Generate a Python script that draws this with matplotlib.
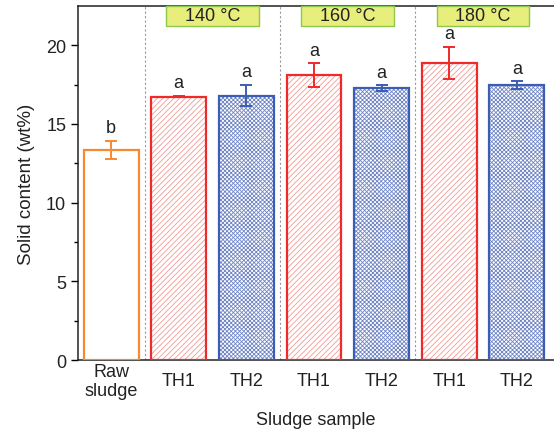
import matplotlib.pyplot as plt
from matplotlib.patches import Rectangle
import numpy as np

plt.rcParams['font.family'] = ['Liberation Sans', 'DejaVu Sans']
plt.rcParams['hatch.linewidth'] = 0.6

# data
samples = ['Raw\nsludge', 'TH1', 'TH2', 'TH1', 'TH2', 'TH1', 'TH2']
solid = [13.35, 16.74, 16.80, 18.12, 17.29, 18.88, 17.46]
err = [0.60, 0.05, 0.67, 0.74, 0.17, 1.04, 0.25]
letters = ['b', 'a', 'a', 'a', 'a', 'a', 'a']
temps = ['140 °C', '160 °C', '180 °C']

orange = '#f58a33'
red = '#ee2a2a'
blue = '#3b5db3'
edge_cols = [orange, red, blue, red, blue, red, blue]
hatch_cols = [orange, '#f49a94', '#7085c4', '#f49a94', '#7085c4', '#f49a94', '#7085c4']
hatches = ['', '//////', 'xxxxxxxx', '//////', 'xxxxxxxx', '//////', 'xxxxxxxx']
txt = '#222222'

fig = plt.figure(figsize=(5.54, 4.31), dpi=100)
ax = fig.add_axes([0.1408, 0.1624, 0.8592, 0.8214])

x = np.arange(len(samples))
w = 0.81
for i in range(len(samples)):
    if hatches[i]:
        ax.bar(x[i], solid[i], w, facecolor='none', edgecolor=hatch_cols[i],
               hatch=hatches[i], linewidth=0, zorder=2)
    ax.bar(x[i], solid[i], w, facecolor='none', edgecolor=edge_cols[i],
           linewidth=1.6, zorder=3)
    ax.errorbar(x[i], solid[i], yerr=err[i], color=edge_cols[i], capsize=4,
                elinewidth=1.4, capthick=1.4, zorder=4)
    ax.text(x[i], solid[i] + err[i] + 0.3, letters[i], ha='center', va='bottom',
            fontsize=13, color=txt)

for xs in [0.5, 2.5, 4.5]:
    ax.axvline(xs, color='#999999', linestyle=(0, (2, 2)), linewidth=0.8, zorder=1)

# temperature boxes hanging from the top spine
box_w = 1.37
box_bottom = 21.23
for k, t in enumerate(temps):
    xc = 1.5 + 2 * k
    ax.add_patch(Rectangle((xc - box_w / 2, box_bottom), box_w, 22.5 - box_bottom,
                           facecolor='#e8ee7c', edgecolor='#8cc84b', linewidth=1.0,
                           zorder=5, clip_on=False))
    ax.text(xc, (22.5 + box_bottom) / 2, t, ha='center', va='center', fontsize=13,
            color=txt, zorder=6)

ax.set_xlim(-0.49, 6.55)
ax.set_ylim(0, 22.5)
ax.set_xticks(x)
ax.set_xticklabels(samples, fontsize=13, color=txt, linespacing=1.2, va='center')
ax.tick_params(axis='x', length=0, pad=15)
ax.set_yticks([0, 5, 10, 15, 20])
ax.set_yticks([2.5, 7.5, 12.5, 17.5], minor=True)
ax.tick_params(axis='y', labelsize=13, labelcolor=txt, length=5, width=1, direction='out')
ax.tick_params(axis='y', which='minor', length=3, width=1)
ax.spines['right'].set_visible(False)
for s in ['left', 'top', 'bottom']:
    ax.spines[s].set_linewidth(1.1)
    ax.spines[s].set_color(txt)
ax.set_ylabel('Solid content (wt%)', fontsize=13.5, color=txt, labelpad=8)
ax.set_xlabel('Sludge sample', fontsize=13, color=txt)
ax.xaxis.set_label_coords(0.5, -0.145)

fig.savefig('out.png', dpi=100)
